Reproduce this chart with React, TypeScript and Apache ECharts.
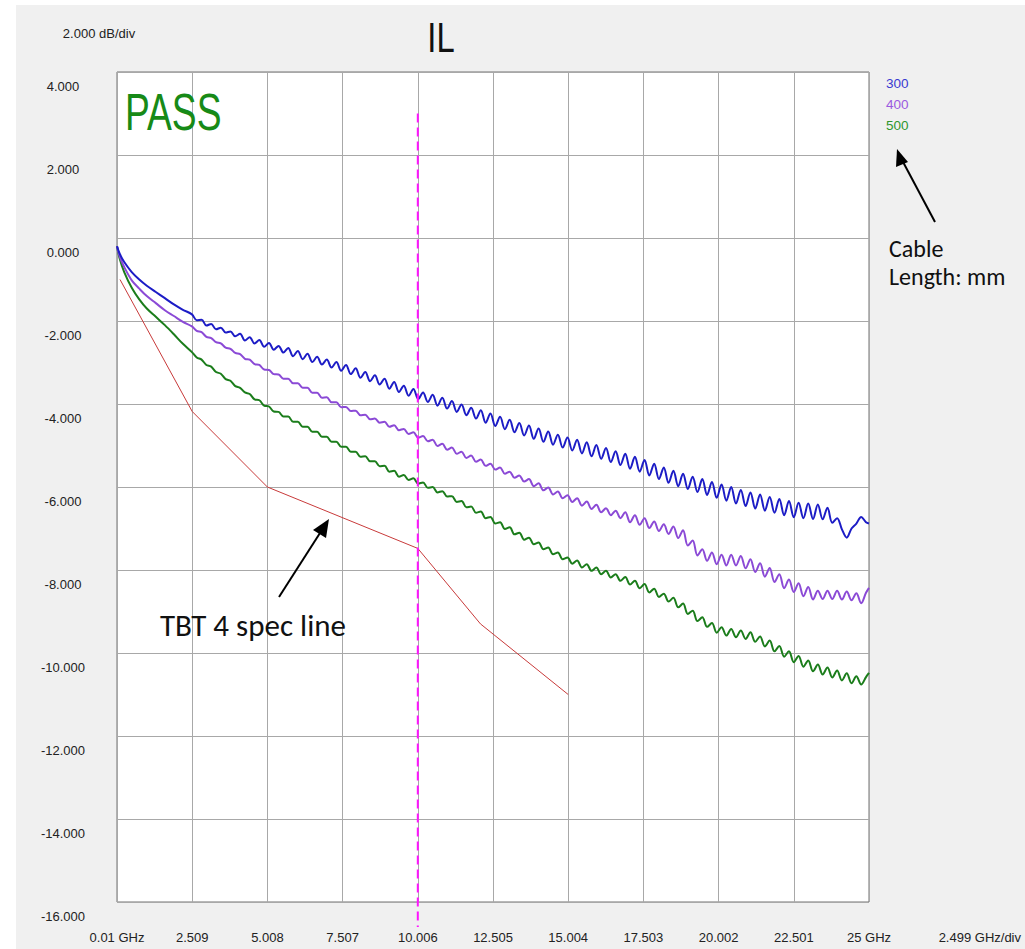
import React, { useEffect, useRef } from "react";
import * as echarts from "echarts";

// ---------- data ----------
const xTickValues = [0.01, 2.509, 5.008, 7.507, 10.006, 12.505, 15.004, 17.503, 20.002, 22.501, 25];
const xTickLabels = ["0.01 GHz", "2.509", "5.008", "7.507", "10.006", "12.505", "15.004", "17.503", "20.002", "22.501", "25 GHz"];

const freqs = [
  0.01, 0.1, 0.25, 0.5, 0.75, 1.0, 1.3, 1.6, 1.9, 2.2,
  2.50, 2.66, 2.82, 2.98, 3.14, 3.30, 3.46, 3.62, 3.78, 3.94,
  4.10, 4.26, 4.42, 4.58, 4.74, 4.90, 5.06, 5.22, 5.38, 5.54,
  5.70, 5.86, 6.02, 6.18, 6.34, 6.50, 6.66, 6.82, 6.98, 7.14,
  7.30, 7.46, 7.62, 7.78, 7.94, 8.10, 8.26, 8.42, 8.58, 8.74,
  8.90, 9.06, 9.22, 9.38, 9.54, 9.70, 9.86, 10.02, 10.18, 10.34,
  10.50, 10.66, 10.82, 10.98, 11.14, 11.30, 11.46, 11.62, 11.78, 11.94,
  12.10, 12.26, 12.42, 12.58, 12.74, 12.90, 13.06, 13.22, 13.38, 13.54,
  13.70, 13.86, 14.02, 14.18, 14.34, 14.50, 14.66, 14.82, 14.98, 15.14,
  15.30, 15.46, 15.62, 15.78, 15.94, 16.10, 16.26, 16.42, 16.58, 16.74,
  16.90, 17.06, 17.22, 17.38, 17.54, 17.70, 17.86, 18.02, 18.18, 18.34,
  18.50, 18.66, 18.82, 18.98, 19.14, 19.30, 19.46, 19.62, 19.78, 19.94,
  20.10, 20.26, 20.42, 20.58, 20.74, 20.90, 21.06, 21.22, 21.38, 21.54,
  21.70, 21.86, 22.02, 22.18, 22.34, 22.50, 22.66, 22.82, 22.98, 23.14,
  23.30, 23.46, 23.62, 23.78, 23.94, 24.10, 24.26, 24.42, 24.58, 24.74,
  24.90, 25.00,
];

const il300 = [
  -0.20, -0.38, -0.58, -0.82, -1.00, -1.15, -1.30, -1.45, -1.60, -1.73,
  -1.84, -1.98, -1.97, -2.11, -2.07, -2.20, -2.16, -2.28, -2.25, -2.37,
  -2.31, -2.47, -2.39, -2.54, -2.46, -2.62, -2.53, -2.69, -2.60, -2.76,
  -2.65, -2.85, -2.72, -2.92, -2.79, -2.99, -2.86, -3.05, -2.93, -3.12,
  -2.99, -3.20, -3.06, -3.28, -3.14, -3.37, -3.23, -3.45, -3.31, -3.53,
  -3.39, -3.63, -3.47, -3.71, -3.56, -3.80, -3.64, -3.88, -3.72, -3.95,
  -3.78, -4.04, -3.85, -4.11, -3.93, -4.19, -4.01, -4.27, -4.09, -4.35,
  -4.15, -4.45, -4.23, -4.53, -4.31, -4.61, -4.38, -4.68, -4.46, -4.76,
  -4.52, -4.84, -4.59, -4.91, -4.66, -4.98, -4.74, -5.05, -4.81, -5.12,
  -4.86, -5.19, -4.92, -5.26, -4.99, -5.32, -5.06, -5.40, -5.14, -5.47,
  -5.20, -5.56, -5.27, -5.63, -5.35, -5.72, -5.44, -5.81, -5.53, -5.90,
  -5.61, -5.98, -5.68, -6.05, -5.75, -6.12, -5.81, -6.19, -5.88, -6.26,
  -5.94, -6.33, -6.00, -6.40, -6.07, -6.46, -6.13, -6.52, -6.18, -6.57,
  -6.24, -6.62, -6.29, -6.68, -6.34, -6.73, -6.38, -6.75, -6.40, -6.77,
  -6.42, -6.78, -6.50, -6.86, -6.75, -7.02, -7.22, -7.00, -6.88, -6.72,
  -6.85, -6.88,
];

const il400 = [
  -0.20, -0.45, -0.70, -1.02, -1.22, -1.40, -1.57, -1.74, -1.88, -2.02,
  -2.13, -2.24, -2.27, -2.38, -2.41, -2.51, -2.54, -2.64, -2.67, -2.77,
  -2.80, -2.91, -2.93, -3.04, -3.06, -3.17, -3.18, -3.28, -3.29, -3.39,
  -3.39, -3.50, -3.50, -3.61, -3.61, -3.73, -3.73, -3.85, -3.84, -3.96,
  -3.96, -4.08, -4.07, -4.17, -4.16, -4.27, -4.26, -4.37, -4.35, -4.45,
  -4.43, -4.55, -4.51, -4.63, -4.60, -4.72, -4.68, -4.81, -4.77, -4.90,
  -4.86, -5.01, -4.96, -5.10, -5.05, -5.20, -5.15, -5.30, -5.24, -5.39,
  -5.34, -5.49, -5.44, -5.58, -5.53, -5.68, -5.63, -5.78, -5.72, -5.87,
  -5.81, -5.98, -5.91, -6.08, -6.01, -6.18, -6.11, -6.27, -6.20, -6.36,
  -6.27, -6.45, -6.35, -6.53, -6.43, -6.61, -6.51, -6.68, -6.57, -6.75,
  -6.61, -6.85, -6.68, -6.91, -6.75, -6.99, -6.83, -7.06, -6.90, -7.13,
  -6.95, -7.23, -7.04, -7.41, -7.29, -7.65, -7.50, -7.78, -7.58, -7.86,
  -7.63, -7.89, -7.63, -7.89, -7.66, -7.96, -7.74, -8.05, -7.84, -8.16,
  -7.95, -8.29, -8.10, -8.44, -8.23, -8.53, -8.32, -8.63, -8.41, -8.71,
  -8.50, -8.70, -8.50, -8.70, -8.50, -8.71, -8.52, -8.73, -8.56, -8.80,
  -8.55, -8.43,
];

const il500 = [
  -0.20, -0.50, -0.82, -1.20, -1.48, -1.70, -1.90, -2.10, -2.32, -2.55,
  -2.75, -2.88, -2.93, -3.06, -3.10, -3.23, -3.27, -3.40, -3.44, -3.57,
  -3.61, -3.72, -3.76, -3.89, -3.91, -4.04, -4.06, -4.18, -4.19, -4.30,
  -4.30, -4.43, -4.43, -4.55, -4.55, -4.67, -4.67, -4.79, -4.79, -4.91,
  -4.91, -5.03, -5.03, -5.15, -5.15, -5.27, -5.26, -5.38, -5.38, -5.50,
  -5.49, -5.63, -5.61, -5.75, -5.71, -5.83, -5.79, -5.92, -5.89, -6.02,
  -6.00, -6.13, -6.10, -6.23, -6.22, -6.36, -6.34, -6.49, -6.47, -6.62,
  -6.59, -6.75, -6.72, -6.88, -6.85, -7.01, -6.97, -7.14, -7.10, -7.27,
  -7.22, -7.38, -7.34, -7.50, -7.46, -7.62, -7.58, -7.74, -7.70, -7.85,
  -7.77, -7.94, -7.86, -8.02, -7.94, -8.10, -8.02, -8.18, -8.10, -8.26,
  -8.17, -8.35, -8.26, -8.44, -8.34, -8.54, -8.45, -8.65, -8.57, -8.76,
  -8.67, -8.90, -8.81, -9.06, -8.98, -9.23, -9.14, -9.37, -9.28, -9.51,
  -9.38, -9.58, -9.42, -9.62, -9.46, -9.66, -9.50, -9.73, -9.60, -9.84,
  -9.70, -9.96, -9.83, -10.09, -9.96, -10.22, -10.07, -10.33, -10.18, -10.44,
  -10.28, -10.52, -10.35, -10.59, -10.42, -10.66, -10.49, -10.73, -10.56, -10.76,
  -10.58, -10.48,
];

const specFreq = [0.11, 2.509, 5.008, 10.006, 12.09, 15.004];
const specLimit = [-1.0, -4.18, -6.0, -7.48, -9.3, -11.0];

const markerFreq = 10.006;
const markerSpan = [3.0, -16.6];

const seriesNames = ["300", "400", "500"];
const seriesColors = ["#1c1cc6", "#8b4ad6", "#1b7d1b"];
const legendColors = ["#3a3ad0", "#9a5ae0", "#2e962e"];

const SANS = "'Liberation Sans', Arial, sans-serif";
const CAL = "Carlito, Lato, 'Open Sans', sans-serif";

export default function App() {
  const ref = useRef<HTMLDivElement>(null);

  useEffect(() => {
    if (!ref.current) return;
    const chart = echarts.init(ref.current, null, { renderer: "svg" });

    const pairs = (vals: number[]) => freqs.map((f, i) => [f, vals[i]]);
    const curves = [il300, il400, il500];

    const txt = (
      text: string, x: number, y: number, font: string, fill: string,
      align = "left", valign = "middle", scaleX = 1
    ) => ({
      type: "text",
      x,
      y,
      scaleX,
      z: 50,
      style: {
        text,
        font,
        fill,
        align,
        verticalAlign: valign,
        textAlign: align,
        textVerticalAlign: valign,
      },
    });

    const option: any = {
      animation: false,
      backgroundColor: "#f0f0f0",
      grid: {
        left: 117,
        top: 72,
        width: 752,
        height: 830,
        show: true,
        backgroundColor: "#ffffff",
        borderColor: "#707070",
        borderWidth: 1,
      },
      legend: {
        orient: "vertical",
        left: 876,
        top: 71,
        icon: "none",
        itemWidth: 0,
        itemHeight: 14,
        itemGap: 7,
        selectedMode: false,
        data: seriesNames.map((n, i) => ({
          name: n,
          textStyle: { color: legendColors[i], fontFamily: SANS, fontSize: 13.5 },
        })),
      },
      xAxis: {
        type: "value",
        min: 0.01,
        max: 25,
        axisLine: { show: false },
        axisTick: { show: false, customValues: xTickValues },
        splitLine: { show: true, lineStyle: { color: "#a8a8a8", width: 1 } },
        axisLabel: {
          customValues: xTickValues,
          margin: 35,
          verticalAlign: "middle",
          color: "#222",
          fontFamily: SANS,
          fontSize: 13,
          showMinLabel: true,
          showMaxLabel: true,
          hideOverlap: false,
          formatter: (v: number) => {
            const i = xTickValues.findIndex((t) => Math.abs(t - v) < 1e-6);
            return i >= 0 ? xTickLabels[i] : "";
          },
        },
      },
      yAxis: {
        type: "value",
        min: -16,
        max: 4,
        interval: 2,
        axisLine: { show: false },
        axisTick: { show: false },
        splitLine: { show: true, lineStyle: { color: "#a8a8a8", width: 1 } },
        axisLabel: {
          margin: 54,
          align: "center",
          verticalAlign: "top",
          lineHeight: 28,
          color: "#222",
          fontFamily: SANS,
          fontSize: 13,
          showMinLabel: true,
          showMaxLabel: true,
          formatter: (v: number) => v.toFixed(3),
        },
      },
      series: [
        {
          type: "line",
          name: "TBT 4 spec",
          data: specFreq.map((f, i) => [f, specLimit[i]]),
          symbol: "none",
          lineStyle: { color: "#c83a3a", width: 1 },
          z: 2,
        },
        ...[2, 1, 0].map((k) => ({
          type: "line",
          name: seriesNames[k],
          data: pairs(curves[k]),
          symbol: "none",
          smooth: 0.35,
          color: seriesColors[k],
          lineStyle: { color: seriesColors[k], width: 2 },
          z: 3,
        })),
        {
          type: "line",
          name: "marker",
          data: markerSpan.map((v) => [markerFreq, v]),
          symbol: "none",
          clip: false,
          lineStyle: { color: "#ff14ff", width: 2, type: [9, 5] },
          z: 5,
        },
      ],
      graphic: [
        { type: "rect", shape: { x: 0, y: 0, width: 16, height: 949 }, style: { fill: "#ffffff" } },
        { type: "rect", shape: { x: 0, y: 0, width: 1025, height: 5 }, style: { fill: "#ffffff" } },
        txt("2.000 dB/div", 99, 33, `13px ${SANS}`, "#222", "center"),
        txt("IL", 441, 38, `42px ${SANS}`, "#111", "center", "middle", 0.78),
        txt("PASS", 125, 112, `51px ${SANS}`, "#178a17", "left", "middle", 0.73),
        txt("2.499 GHz/div", 1021, 937, `13px ${SANS}`, "#222", "right"),
        txt("Cable", 889, 248, `24px ${CAL}`, "#111", "left"),
        txt("Length: mm", 889, 276, `24px ${CAL}`, "#111", "left"),
        txt("TBT 4 spec line", 160, 625, `31px ${CAL}`, "#111", "left"),
        { type: "line", z: 50, shape: { x1: 935, y1: 222, x2: 902, y2: 160 }, style: { stroke: "#000", lineWidth: 2 } },
        { type: "polygon", z: 50, shape: { points: [[897, 149], [908, 162], [896, 167]] }, style: { fill: "#000" } },
        { type: "line", z: 50, shape: { x1: 279, y1: 597, x2: 320, y2: 533 }, style: { stroke: "#000", lineWidth: 2 } },
        { type: "polygon", z: 50, shape: { points: [[329, 519], [326, 538], [313, 530]] }, style: { fill: "#000" } },
      ],
    };

    chart.setOption(option);
    return () => chart.dispose();
  }, []);

  return <div ref={ref} style={{ position: "absolute", left: 0, top: 0, width: 1025, height: 949 }} />;
}
